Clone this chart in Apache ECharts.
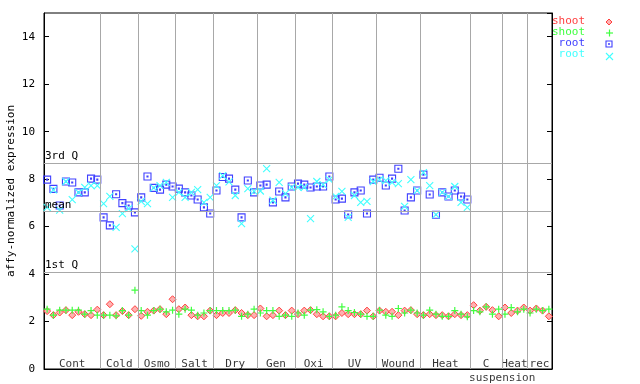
<!DOCTYPE html>
<html>
<head>
<meta charset="utf-8">
<script src="https://cdn.jsdelivr.net/npm/echarts@6/dist/echarts.min.js"></script>
<style>html,body{margin:0;padding:0;background:#fff}#c{width:640px;height:384px}</style>
</head>
<body>
<div id="c"></div>
<script>
var groups = ['Cont','Cold','Osmo','Salt','Dry','Gen','Oxi','UV','Wound','Heat','C','Heat','rec'];
var groupBounds = [0,9,15,21,27,34,40,46,53,60,68,73,77,81];
var yTicks = [0,2,4,6,8,10,12,14];
var quartiles = [['3rd Q',8.69],['mean',6.63],['1st Q',4.09]];
var yTitle = 'affy-normalized expression';

var shootRep1 = [2.44,2.27,2.38,2.48,2.27,2.41,2.31,2.27,2.50,
 2.27,2.73,2.27,2.44,2.27,2.52,
 2.24,2.41,2.46,2.52,2.31,2.94,
 2.52,2.59,2.27,2.22,2.22,2.46,
 2.27,2.36,2.36,2.48,2.36,2.27,2.27,
 2.55,2.22,2.27,2.46,2.27,2.46,
 2.31,2.46,2.48,2.31,2.22,2.22,
 2.22,2.36,2.31,2.31,2.31,2.46,2.22,
 2.46,2.41,2.41,2.27,2.46,2.48,2.31,
 2.27,2.31,2.27,2.27,2.22,2.31,2.27,2.27,
 2.69,2.46,2.62,2.48,2.22,
 2.59,2.36,2.46,2.59,
 2.46,2.55,2.46,2.22];
var shootRep2 = [2.52,2.27,2.48,2.48,2.48,2.48,2.31,2.46,2.27,
 2.27,2.27,2.24,2.46,2.27,3.32,
 2.46,2.27,2.46,2.52,2.41,2.48,
 2.31,2.52,2.48,2.27,2.36,2.46,
 2.46,2.46,2.46,2.48,2.22,2.31,2.52,
 2.36,2.46,2.46,2.22,2.27,2.22,
 2.36,2.27,2.48,2.50,2.41,2.22,
 2.27,2.62,2.46,2.38,2.31,2.22,2.22,
 2.48,2.27,2.22,2.55,2.36,2.48,2.36,
 2.27,2.48,2.31,2.22,2.22,2.46,2.31,2.20,
 2.46,2.41,2.62,2.31,2.52,
 2.31,2.59,2.41,2.52,
 2.36,2.52,2.46,2.52];
var rootRep1 = [7.98,7.59,6.89,7.90,7.86,7.44,7.44,8.02,7.98,
 6.39,6.05,7.36,6.99,6.89,6.60,
 7.23,8.11,7.63,7.56,7.77,7.69,
 7.60,7.44,7.31,7.14,6.81,6.55,
 7.52,8.09,8.02,7.56,6.39,7.94,7.44,
 7.73,7.77,7.02,7.48,7.23,7.69,
 7.81,7.77,7.65,7.69,7.69,8.11,
 7.14,7.18,6.51,7.44,7.52,6.55,7.98,
 8.06,7.73,8.02,8.44,6.68,7.23,7.52,
 8.19,7.35,6.50,7.44,7.27,7.52,7.27,7.14];
var rootRep2 = [6.81,7.55,6.69,7.90,7.14,7.44,7.65,7.73,7.73,
 6.97,7.27,5.97,6.55,6.76,5.06,
 7.06,6.97,7.63,7.73,7.86,7.23,
 7.44,7.23,7.44,7.56,7.02,7.23,
 7.73,8.15,7.88,7.31,6.13,7.60,7.48,
 7.50,8.44,7.11,7.86,7.39,7.65,
 7.65,7.65,6.34,7.90,7.77,7.98,
 7.27,7.48,6.39,7.31,7.02,7.06,7.90,
 7.98,7.94,7.86,7.81,6.85,7.98,7.52,
 8.27,7.73,6.50,7.44,7.27,7.69,7.02,6.81];

var FONT = 'DejaVu Sans Mono';
var C_RED = '#ff4040', C_GREEN = '#40ff40', C_BLUE = '#4040ff', C_CYAN = '#40ffff';
var SYM_DIAMOND = 'path://M0,-3.5L3.5,0L0,3.5L-3.5,0Z';
var SYM_PLUS = 'path://M-3.5,0L3.5,0M0,-3.5L0,3.5';
var SYM_SQUARE = 'path://M0,0L7,0L7,7L0,7Z M3,3L4,3L4,4L3,4Z';
var SYM_X = 'path://M0,0L7,7M7,0L0,7';

function pts(arr){ return arr.map(function(v,i){ return [i+0.5, v]; }); }

var groupLabelData = groups.map(function(g,i){
  return {name:g, value:[(groupBounds[i]+groupBounds[i+1])/2, 0.22]};
});
groupLabelData.push({name:'suspension', value:[73.05, -0.37]});

var markData = [];
groupBounds.slice(1, groupBounds.length-1).forEach(function(b){
  markData.push({xAxis:b, label:{show:false}});
});
quartiles.forEach(function(q){
  markData.push({yAxis:q[1], label:{show:true, formatter:q[0]}});
});

function dataSeries(name, arr, sym, fill, stroke, bw){
  return {
    type:'scatter', name:name, data:pts(arr), symbol:sym, symbolSize:7,
    itemStyle:{color:fill, borderColor:stroke, borderWidth:bw, opacity:1},
    z:3, silent:true, emphasis:{disabled:true}
  };
}

var chart = echarts.init(document.getElementById('c'), null, {renderer:'canvas'});
chart.setOption({
  animation:false,
  backgroundColor:'#fff',
  grid:{left:44, right:88, top:13, bottom:15, containLabel:false, outerBoundsMode:'none', show:true, borderColor:'#000', borderWidth:1, backgroundColor:'transparent'},
  xAxis:{type:'value', min:0, max:81, axisLine:{show:true, lineStyle:{color:'#000'}}, axisTick:{show:false}, axisLabel:{show:false}, splitLine:{show:false}},
  yAxis:[{
    type:'value', min:0, max:15, interval:2,
    axisLine:{show:true, lineStyle:{color:'#000'}},
    axisTick:{show:true, inside:true, length:5, lineStyle:{color:'#000'}},
    axisLabel:{fontFamily:FONT, fontSize:11, color:'#000', margin:9, showMaxLabel:false,
      formatter:function(v){ return yTicks.indexOf(v)>=0 ? String(v) : ''; }},
    splitLine:{show:false}
  },{
    type:'value', min:0, max:15, interval:2, position:'right',
    axisLine:{show:true, lineStyle:{color:'#000'}},
    axisTick:{show:true, inside:true, length:5, lineStyle:{color:'#000'}},
    axisLabel:{show:false}, splitLine:{show:false}
  }],
  series:[
    {
      type:'scatter', name:'labels', data:groupLabelData, symbolSize:0, z:1, silent:true, clip:false,
      label:{show:true, position:'inside', formatter:'{b}', fontFamily:FONT, fontSize:11, color:'#000'},
      markLine:{
        silent:true, symbol:'none', animation:false,
        lineStyle:{color:'#a8a8a8', type:'solid', width:1},
        label:{position:'insideStartTop', fontFamily:FONT, fontSize:11, color:'#000', distance:[1,1]},
        emphasis:{disabled:true},
        data:markData
      }
    },
    dataSeries('shoot1', shootRep1, SYM_DIAMOND, '#ffb0b0', C_RED, 1),
    dataSeries('shoot2', shootRep2, SYM_PLUS, 'transparent', C_GREEN, 1.2),
    dataSeries('root1', rootRep1, SYM_SQUARE, 'transparent', C_BLUE, 1.1),
    dataSeries('root2', rootRep2, SYM_X, 'transparent', C_CYAN, 1.1)
  ],
  graphic:[
    {type:'text', x:11, y:191, rotation:Math.PI/2, style:{text:yTitle, fill:'#000', font:'11px '+FONT, align:'center', verticalAlign:'middle'}},
    {type:'text', right:55, top:16, style:{text:'shoot', fill:C_RED, font:'11px '+FONT}},
    {type:'text', right:55, top:27, style:{text:'shoot', fill:C_GREEN, font:'11px '+FONT}},
    {type:'text', right:55, top:38, style:{text:'root', fill:C_BLUE, font:'11px '+FONT}},
    {type:'text', right:55, top:49, style:{text:'root', fill:C_CYAN, font:'11px '+FONT}},
    {type:'polygon', shape:{points:[[609,19],[612,22],[609,25],[606,22]]}, style:{fill:'#ffb0b0', stroke:C_RED, lineWidth:1}},
    {type:'group', children:[
      {type:'line', shape:{x1:606,y1:33,x2:613,y2:33}, style:{stroke:C_GREEN, lineWidth:1.2}},
      {type:'line', shape:{x1:609.5,y1:29.5,x2:609.5,y2:36.5}, style:{stroke:C_GREEN, lineWidth:1.2}}
    ]},
    {type:'rect', shape:{x:606,y:41,width:6,height:6}, style:{fill:'transparent', stroke:C_BLUE, lineWidth:1.1}},
    {type:'rect', shape:{x:608.5,y:43.5,width:1,height:1}, style:{fill:'transparent', stroke:C_BLUE, lineWidth:1}},
    {type:'group', children:[
      {type:'line', shape:{x1:606,y1:53,x2:613,y2:60}, style:{stroke:C_CYAN, lineWidth:1.1}},
      {type:'line', shape:{x1:613,y1:53,x2:606,y2:60}, style:{stroke:C_CYAN, lineWidth:1.1}}
    ]}
  ]
});
</script>
</body>
</html>
